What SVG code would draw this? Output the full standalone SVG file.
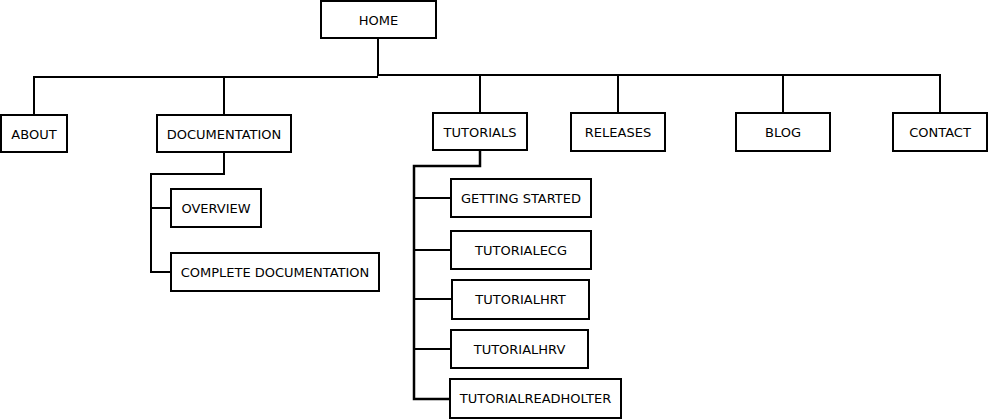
<svg xmlns="http://www.w3.org/2000/svg" width="988" height="419" viewBox="0 0 988 419">
<style>
.n rect{fill:#fff;stroke:#000;stroke-width:2}
.n text{font-family:"DejaVu Sans",sans-serif;font-size:13px;fill:#000;text-anchor:middle;dominant-baseline:central}
.c path{fill:none;stroke:#000;stroke-width:2}
</style>
<rect width="988" height="419" fill="#fff"/>
<g class="c">
<path d="M378,38 V76"/>
<path d="M34,115 V77 H378"/>
<path d="M378,75 H940 V113"/>
<path d="M224,77 V115"/>
<path d="M480,75 V113"/>
<path d="M618,75 V113"/>
<path d="M783,75 V113"/>
<path d="M224,152 V174 H151 V272 H171"/>
<path d="M151,208 H171"/>
<path d="M480,150 V166 H414 V399 H450" style="stroke-width:2.5"/>
<path d="M414,198 H451"/>
<path d="M414,250 H451"/>
<path d="M414,299 H452"/>
<path d="M414,349 H451"/>
</g>
<g id="home" class="n"><rect x="321" y="1" width="115" height="37"/><text x="378.5" y="20">HOME</text></g>
<g id="about" class="n"><rect x="1" y="115" width="66" height="37"/><text x="34" y="134">ABOUT</text></g>
<g id="documentation" class="n"><rect x="157" y="115" width="134" height="37"/><text x="224" y="134">DOCUMENTATION</text></g>
<g id="tutorials" class="n"><rect x="433" y="113" width="94" height="37"/><text x="480" y="132">TUTORIALS</text></g>
<g id="releases" class="n"><rect x="571" y="113" width="94" height="38"/><text x="618" y="132">RELEASES</text></g>
<g id="blog" class="n"><rect x="736" y="113" width="94" height="38"/><text x="783" y="132">BLOG</text></g>
<g id="contact" class="n"><rect x="893" y="113" width="94" height="38"/><text x="940" y="132">CONTACT</text></g>
<g id="overview" class="n"><rect x="171" y="189" width="90" height="38"/><text x="216" y="208">OVERVIEW</text></g>
<g id="complete" class="n"><rect x="171" y="253" width="208" height="38"/><text x="275" y="272">COMPLETE DOCUMENTATION</text></g>
<g id="getting" class="n"><rect x="451" y="179" width="140" height="38"/><text x="521" y="198">GETTING STARTED</text></g>
<g id="ecg" class="n"><rect x="451" y="231" width="140" height="38"/><text x="521" y="250">TUTORIALECG</text></g>
<g id="hrt" class="n"><rect x="452" y="280" width="137" height="39"/><text x="520.5" y="299">TUTORIALHRT</text></g>
<g id="hrv" class="n"><rect x="451" y="330" width="137" height="38"/><text x="519.5" y="349">TUTORIALHRV</text></g>
<g id="holter" class="n"><rect x="450" y="379" width="171" height="39"/><text x="535.5" y="398">TUTORIALREADHOLTER</text></g>
</svg>
